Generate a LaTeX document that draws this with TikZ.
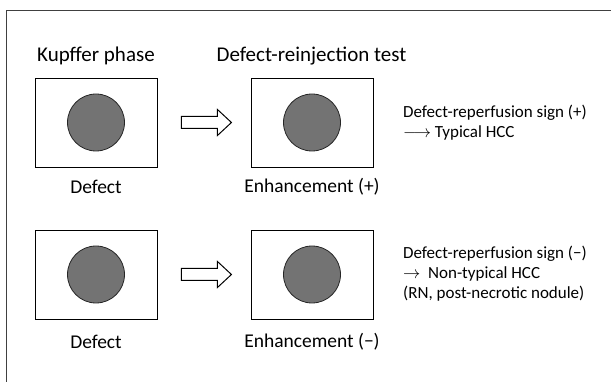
\documentclass[tikz,border=0pt]{standalone}
\usepackage{fontspec}
\setmainfont{Carlito}
\usetikzlibrary{positioning}

\tikzset{
  scan/.style={draw, line width=0.9pt, minimum width=122pt, minimum height=89pt, inner sep=0pt},
  lesion/.style={circle, draw=black!85, line width=0.8pt, fill=black!55, minimum size=57pt, inner sep=0pt},
  hollow/.style={draw, line width=1pt, fill=white},
  head/.style={font=\fontsize{21}{25}\selectfont},
  caption/.style={font=\fontsize{19.5}{23}\selectfont},
  result/.style={font=\fontsize{17}{20}\selectfont, align=left, anchor=west, inner sep=0pt}
}

\begin{document}
\begin{tikzpicture}[x=1pt,y=-1pt]
\useasboundingbox (0,0) rectangle (611,382);

% frame, cut at the right and bottom
\draw [black!75, line width=0.8pt] (6,382) -- (6,10) -- (611,10);

\node [head] (kupffer) at (96,56) {Kupffer phase};
\node [head] (reinj) at (311.5,56) {Defect-reinjection test};


% upper row
\node [scan] (box1) at (96,122.5) {};
\node [scan] (box2) at (312,122.5) {};
\node [lesion] (spot1) at (box1.center) {};
\node [lesion] (spot2) at (box2.center) {};
\node [caption] (def1) at (96,187) {Defect};
\node [caption] (enh1) at (312,187) {Enhancement (+)};

\draw [hollow] (box1.east) ++(24,-6) -- ++(36,0) -- ++(0,-7) -- ++(14,13)
  -- ++(-14,13) -- ++(0,-7) -- ++(-36,0) -- cycle;

\node [result] (sign1) at (403,122.5) {Defect-reperfusion sign (+)\\$\longrightarrow$ Typical HCC};


% lower row
\node [scan] (box3) at (96,274.5) {};
\node [scan] (box4) at (312,274.5) {};
\node [lesion] (spot3) at (box3.center) {};
\node [lesion] (spot4) at (box4.center) {};
\node [caption] (def2) at (96,342) {Defect};
\node [caption] (enh2) at (312,342) {Enhancement (−)};

\draw [hollow] (box3.east) ++(24,-6) -- ++(36,0) -- ++(0,-7) -- ++(14,13)
  -- ++(-14,13) -- ++(0,-7) -- ++(-36,0) -- cycle;

\node [result] (sign2) at (403,274) {Defect-reperfusion sign (−)\\$\rightarrow$\ \ Non-typical HCC\\(RN, post-necrotic nodule)};

\end{tikzpicture}
\end{document}
